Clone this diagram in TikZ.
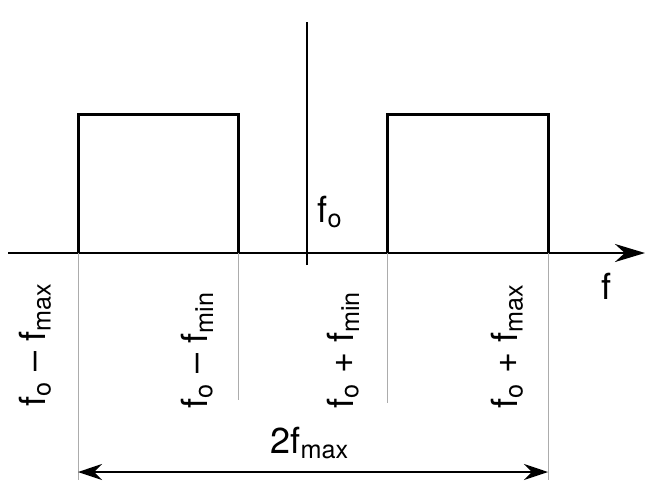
\documentclass[tikz,border=0pt]{standalone}
\usepackage{fontspec}
\setmainfont{TeX Gyre Heros}
\usetikzlibrary{arrows.meta}
\newcommand{\fo}{f\textsubscript{o}}
\newcommand{\fsub}[1]{f\textsubscript{#1}}
\tikzset{
  band/.style={line width=1.5pt,line join=miter},
  leader/.style={gray!65,line width=.5pt},
  vlabel/.style={rotate=90,anchor=center,inner sep=0pt}
}
\begin{document}
\begin{tikzpicture}[x=.5pt,y=.5pt,font=\fontsize{18}{22}\selectfont]
  \useasboundingbox (0,0) rectangle (646,488);
  % axis and carrier line
  \coordinate (ax0) at (8,235);
  \coordinate (ax1) at (645,235);
  \coordinate (c0) at (307,223);
  \coordinate (c1) at (307,466);
  \draw[line width=.8pt] (c0) -- (c1);
  \draw[line width=1.4pt,-{Stealth[length=15pt,width=9pt]}] (ax0) -- (ax1);
  % lower and upper sidebands
  \coordinate (l0) at (78,235);
  \coordinate (l1) at (238,235);
  \coordinate (u0) at (387,235);
  \coordinate (u1) at (548,235);
  \draw[band] (l0) -- ++(0,138) -| (l1);
  \draw[band] (u0) -- ++(0,138) -| (u1);
  % leader lines
  \coordinate (d0) at (78,8);
  \coordinate (d1) at (548,8);
  \draw[leader] (l0) -- (d0);
  \draw[leader] (l1) -- (238,88);
  \draw[leader] (u0) -- (387,85);
  \draw[leader] (u1) -- (d1);
  % bandwidth
  \draw[line width=.8pt,{Stealth[length=12pt,width=8pt]}-{Stealth[length=12pt,width=8pt]}]
    (78,16) -- (548,16);
  \node (bw) at (310,45) {2\fsub{max}};
  % labels
  \node (fc) at (330,276) {\fo};
  \node (fax) at (606,202) {f};
  \node[vlabel] (lmax) at (35,143) {\fo{} -- \fsub{max}};
  \node[vlabel] (lmin) at (197,138) {\fo{} -- \fsub{min}};
  \node[vlabel] (umin) at (343,138) {\fo{} + \fsub{min}};
  \node[vlabel] (umax) at (507,142) {\fo{} + \fsub{max}};
\end{tikzpicture}
\end{document}
